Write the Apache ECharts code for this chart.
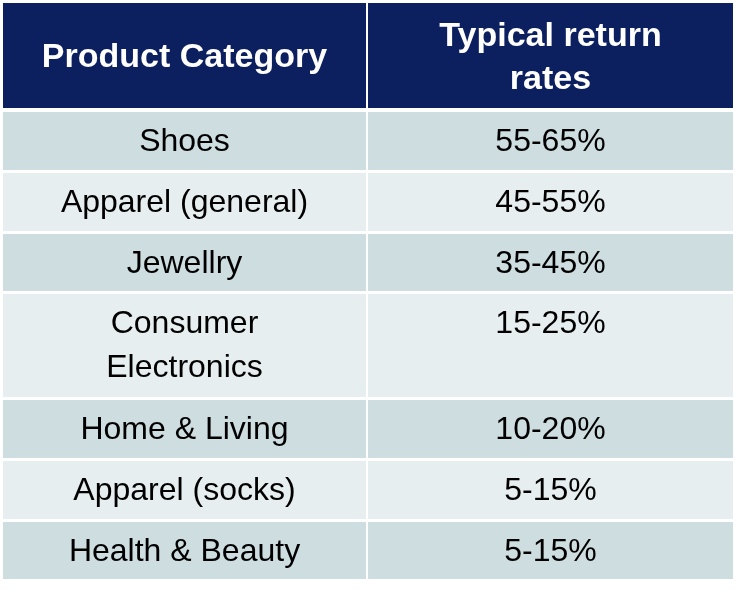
<!DOCTYPE html>
<html lang="en" style="height: 100%">
<head>
    <meta charset="UTF-8">
    <title>Return rates</title>
    <script type="text/javascript" src="https://cdn.jsdelivr.net/npm/echarts@6/dist/echarts.min.js"></script>
</head>
<body style="height: 100%;margin: 0;background:#fff">
<div id="main" style="width:737px;height:595px"></div>
<script type="text/javascript">
    var headers = ['Product Category', 'Typical return\nrates'];
    var categories = ['Shoes', 'Apparel (general)', 'Jewellry', 'Consumer\nElectronics', 'Home & Living', 'Apparel (socks)', 'Health & Beauty'];
    var returnRates = ['55-65%', '45-55%', '35-45%', '15-25%', '10-20%', '5-15%', '5-15%'];

    var rowTops = [112, 173, 234, 294, 400, 461, 522];
    var rowHeights = [58, 58, 57, 103, 58, 58, 57];
    var colX = [3, 368];
    var colW = [363, 365];
    var fills = ['#cddde0', '#e6eef0'];
    var font = '"Liberation Sans", Arial, sans-serif';

    var els = [];
    // header
    for (var c = 0; c < 2; c++) {
        els.push({type: 'rect', shape: {x: colX[c], y: 3, width: colW[c], height: 105}, style: {fill: '#0c1f5e'}});
        els.push({type: 'text', x: colX[c] + colW[c] / 2, y: 58, style: {
            text: headers[c], fill: '#fff', font: 'bold 34px ' + font, align: 'center', verticalAlign: 'middle', lineHeight: 43
        }});
    }
    // body
    for (var r = 0; r < categories.length; r++) {
        var cells = [categories[r], returnRates[r]];
        for (var k = 0; k < 2; k++) {
            els.push({type: 'rect', shape: {x: colX[k], y: rowTops[r], width: colW[k], height: rowHeights[r]}, style: {fill: fills[r % 2]}});
            els.push({type: 'text', x: colX[k] + colW[k] / 2, y: rowTops[r] + 8, style: {
                text: cells[k], fill: '#000', font: '32px ' + font, align: 'center', verticalAlign: 'top', lineHeight: 44
            }});
        }
    }

    var chart = echarts.init(document.getElementById('main'));
    chart.setOption({graphic: {elements: els}});
</script>
</body>
</html>
